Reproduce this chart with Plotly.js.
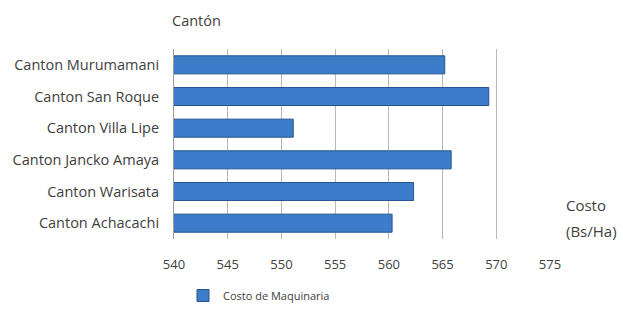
<!DOCTYPE html>
<html>
<head>
<meta charset="utf-8">
<script src="https://cdn.plot.ly/plotly-3.0.1.min.js"></script>
<style>html,body{margin:0;padding:0;background:#fff;}#chart{width:623px;height:309px;}</style>
</head>
<body>
<div id="chart"></div>
<script>
const cantones = ["Canton Murumamani", "Canton San Roque", "Canton Villa Lipe", "Canton Jancko Amaya", "Canton Warisata", "Canton Achacachi"];
const costoMaquinaria = [565.2, 569.3, 551.1, 565.8, 562.3, 560.3];
const xTicks = [540, 545, 550, 555, 560, 565, 570, 575];
const seriesName = "Costo de Maquinaria";

const fontFam = "'Open Sans', 'Liberation Sans', sans-serif";
const txtColor = "#404040";

const trace = {
  type: "bar",
  orientation: "h",
  x: costoMaquinaria,
  y: cantones,
  name: seriesName,
  marker: { color: "#3d7cc9", line: { color: "#24548f", width: 1 } },
  hoverinfo: "x+y"
};

const L = 174, R = 73, T = 49, B = 70, W = 623, H = 309;
const pw = W - L - R, ph = H - T - B;
const px = (x) => (x - L) / pw;
const py = (y) => (H - B - y) / ph;

const layout = {
  width: W,
  height: H,
  margin: { l: L, r: R, t: T, b: B },
  paper_bgcolor: "#ffffff",
  plot_bgcolor: "#ffffff",
  font: { family: fontFam, size: 12, color: txtColor },
  bargap: 0.43,
  showlegend: true,
  xaxis: {
    range: [540, 575],
    tickvals: xTicks,
    ticktext: xTicks.map(String),
    showgrid: true,
    gridcolor: "#b8b8b8",
    gridwidth: 1,
    zeroline: false,
    showline: false,
    ticks: "outside",
    ticklen: 13,
    tickcolor: "rgba(0,0,0,0)",
    tickfont: { family: fontFam, size: 13, color: txtColor },
    fixedrange: true
  },
  yaxis: {
    type: "category",
    autorange: "reversed",
    showgrid: false,
    showline: true,
    linecolor: "#9a9a9a",
    linewidth: 1,
    ticks: "outside",
    ticklen: 11,
    tickcolor: "rgba(0,0,0,0)",
    tickfont: { family: fontFam, size: 14.5, color: txtColor },
    fixedrange: true
  },
  legend: {
    orientation: "h",
    xref: "container",
    yref: "container",
    x: 183 / W,
    y: 1 - 281 / H,
    xanchor: "left",
    yanchor: "top",
    font: { family: fontFam, size: 11, color: txtColor },
    itemwidth: 30,
    bgcolor: "rgba(0,0,0,0)"
  },
  annotations: [
    { text: "Cantón", xref: "paper", yref: "paper", x: px(170), y: py(21), xanchor: "left", yanchor: "middle", showarrow: false, font: { family: fontFam, size: 14.5, color: txtColor } },
    { text: "Costo", xref: "paper", yref: "paper", x: px(564), y: py(205), xanchor: "left", yanchor: "middle", showarrow: false, font: { family: fontFam, size: 15, color: txtColor } },
    { text: "(Bs/Ha)", xref: "paper", yref: "paper", x: px(564), y: py(231), xanchor: "left", yanchor: "middle", showarrow: false, font: { family: fontFam, size: 15, color: txtColor } }
  ]
};

Plotly.newPlot("chart", [trace], layout, { displayModeBar: false, staticPlot: true });
</script>
</body>
</html>
